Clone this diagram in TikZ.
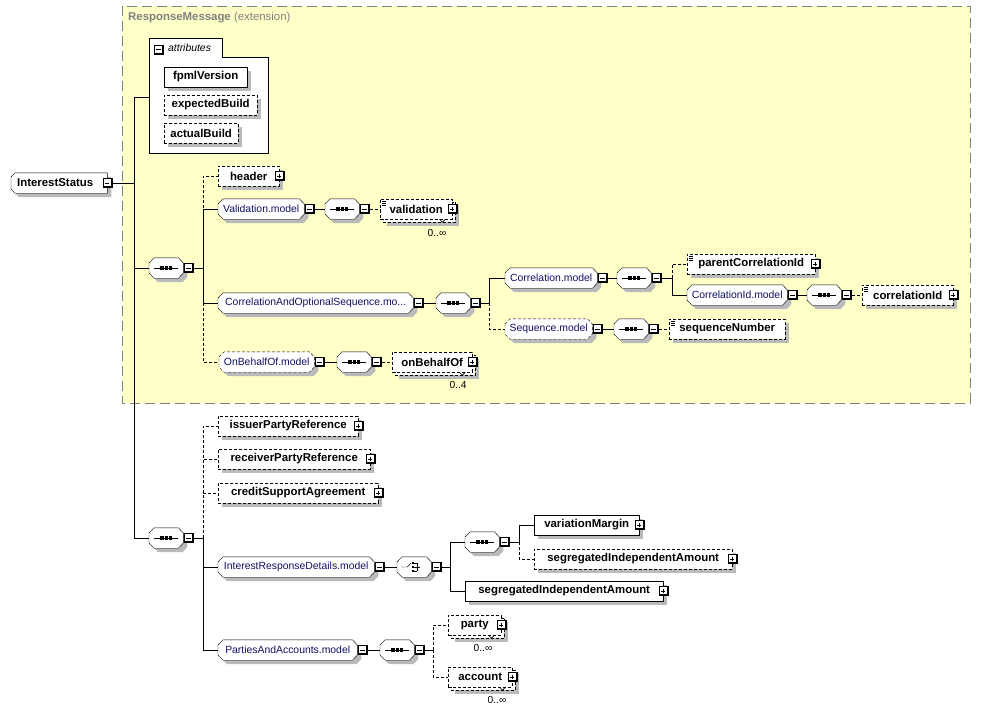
\documentclass[tikz,border=0pt]{standalone}
\usepackage{fontspec}
\setmainfont{Liberation Sans}
\usetikzlibrary{calc}

\definecolor{extfill}{RGB}{255,255,200}
\definecolor{extline}{RGB}{128,128,128}
\definecolor{grptext}{RGB}{16,16,100}
\definecolor{dropgray}{RGB}{186,186,186}

\newcommand\elemfont{\fontsize{11.4}{13}\selectfont\bfseries}
\newcommand\grpfont{\fontsize{10.4}{12}\selectfont}
\newcommand\cardfont{\fontsize{10.2}{12}\selectfont}

% octagon round a group node, #2 = offset
\newcommand\grpshape[2]{($(#1.west)+(0pt,5pt)+#2$) -- ($(#1.north west)+(5pt,0pt)+#2$)
  -- ($(#1.north east)+(-5pt,0pt)+#2$) -- ($(#1.east)+(0pt,5pt)+#2$)
  -- ($(#1.east)+(0pt,-5pt)+#2$) -- ($(#1.south east)+(-5pt,0pt)+#2$)
  -- ($(#1.south west)+(5pt,0pt)+#2$) -- ($(#1.west)+(0pt,-5pt)+#2$) -- cycle}

\pgfdeclarelayer{extlayer}
\pgfdeclarelayer{outlinelayer}
\pgfsetlayers{extlayer,outlinelayer,main}

\tikzset{
  opt/.style={dash pattern=on 3pt off 2pt},
  elem/.style={draw, fill=white, font=\elemfont, minimum height=20pt, inner sep=0pt, anchor=west},
  grp/.style={font=\grpfont, text=grptext, minimum height=20pt, inner sep=0pt, anchor=west},
  seq/.style={grp, minimum width=34pt},
  card/.style={font=\cardfont, inner sep=0pt},
  pmbox/.style={draw, fill=white, minimum size=9pt, inner sep=0pt, line width=0.8pt},
  minus/.style={pmbox, path picture={
    \draw[line width=2.2pt] (path picture bounding box.north east) -- (path picture bounding box.south east)
      -- (path picture bounding box.south west);
    \draw ([xshift=2pt]path picture bounding box.west) -- ([xshift=-2.5pt]path picture bounding box.east);}},
  plus/.style={pmbox, path picture={
    \draw[line width=2.2pt] (path picture bounding box.north east) -- (path picture bounding box.south east)
      -- (path picture bounding box.south west);
    \draw ([xshift=2pt]path picture bounding box.west) -- ([xshift=-2.5pt]path picture bounding box.east);
    \draw ([shift={(-0.3pt,-2pt)}]path picture bounding box.north) -- ([shift={(-0.3pt,2.5pt)}]path picture bounding box.south);}},
}

\begin{document}
\begin{tikzpicture}[x=1pt, y=-1pt, line width=0.9pt]
  \useasboundingbox (0,0) rectangle (981,713);

  % extension of ResponseMessage, with its attributes
  \begin{pgfonlayer}{extlayer}
    \fill[extfill] (122,6) rectangle (970,403);
    \draw[extline, dash pattern=on 10pt off 5pt] (122,6) rectangle (970,403);
    \draw[fill=white] (149,153) -- (149,38) -- (222,38) -- (222,57) -- (268,57) -- (268,153) -- cycle;
  \end{pgfonlayer}
  \node[anchor=west, inner sep=0pt, text=extline, font=\elemfont] (ext) at (128,18) {ResponseMessage \mdseries(extension)};

  % root element
  \node[grp, font=\elemfont, text=black, minimum width=96pt, text width=84pt, align=left] (st) at (11,183) {InterestStatus};
  \node[minus] (st-b) at (st.east) {};

  % attributes
  \node[minus] (attr-b) at (158.5,49.5) {};
  \node[anchor=west, inner sep=0pt, font=\grpfont\itshape] (attr) at (168,48) {attributes};
  \coordinate (attr-in) at (149,97);
  \node[elem, minimum width=83pt] (fv) at (164,77) {fpmlVersion};
  \node[elem, opt, minimum width=93pt] (eb) at (164,105) {expectedBuild};
  \node[elem, opt, minimum width=74pt] (ab) at (164,133) {actualBuild};

  % inherited sequence
  \coordinate (t0) at (134,183);
  \node[seq] (s1) at (149,268) {};
  \node[minus] (s1-b) at ([xshift=5.5pt]s1.east) {};
  \coordinate (j1) at (203,268);

  \node[elem, opt, minimum width=61pt] (hdr) at (218,176) {header};
  \node[plus] (hdr-b) at (hdr.east) {};

  \node[grp, minimum width=86pt] (valm) at (218,209) {Validation.model};
  \node[minus] (valm-b) at ([xshift=5.5pt]valm.east) {};
  \node[seq] (s2) at (325,209) {};
  \node[minus] (s2-b) at ([xshift=5.5pt]s2.east) {};
  \node[elem, opt, minimum width=72pt] (val) at (380,209) {validation};
  \node[plus] (val-b) at (val.east) {};
  \node[card] (val-n) at (437,233) {0..∞};

  \node[grp, minimum width=195pt] (coas) at (218,303) {CorrelationAndOptionalSequence.mo...};
  \node[minus] (coas-b) at ([xshift=5.5pt]coas.east) {};
  \node[seq] (s3) at (436,303) {};
  \node[minus] (s3-b) at ([xshift=5.5pt]s3.east) {};
  \coordinate (j3) at (489,303);

  \node[grp, minimum width=92pt] (corm) at (505,278) {Correlation.model};
  \node[minus] (corm-b) at ([xshift=5.5pt]corm.east) {};
  \node[seq] (s4) at (617,278) {};
  \node[minus] (s4-b) at ([xshift=5.5pt]s4.east) {};
  \coordinate (j4) at (672,278);
  \node[elem, opt, minimum width=128pt] (pci) at (687,264) {parentCorrelationId};
  \node[plus] (pci-b) at (pci.east) {};
  \node[grp, minimum width=100pt] (cidm) at (687,295) {CorrelationId.model};
  \node[minus] (cidm-b) at ([xshift=5.5pt]cidm.east) {};
  \node[seq] (s5) at (807,295) {};
  \node[minus] (s5-b) at ([xshift=5.5pt]s5.east) {};
  \node[elem, opt, minimum width=91pt] (cid) at (862,295) {correlationId};
  \node[plus] (cid-b) at (cid.east) {};

  \node[grp, minimum width=87pt] (seqm) at (505,329) {Sequence.model};
  \node[minus] (seqm-b) at ([xshift=5.5pt]seqm.east) {};
  \node[seq] (s6) at (614,329) {};
  \node[minus] (s6-b) at ([xshift=5.5pt]s6.east) {};
  \node[elem, opt, minimum width=116pt] (sn) at (669,329) {sequenceNumber};

  \node[grp, minimum width=95pt] (obm) at (219,362) {OnBehalfOf.model};
  \node[minus] (obm-b) at ([xshift=5.5pt]obm.east) {};
  \node[seq] (s7) at (337,362) {};
  \node[minus] (s7-b) at ([xshift=5.5pt]s7.east) {};
  \node[elem, opt, minimum width=80pt] (obo) at (392,362) {onBehalfOf};
  \node[plus] (obo-b) at (obo.east) {};
  \node[card] (obo-n) at (458,385) {0..4};

  % own sequence
  \node[seq] (sB) at (149,538) {};
  \node[minus] (sB-b) at ([xshift=5.5pt]sB.east) {};
  \coordinate (jB) at (203,538);

  \node[elem, opt, minimum width=140pt] (ipr) at (218,426) {issuerPartyReference};
  \node[plus] (ipr-b) at (ipr.east) {};
  \node[elem, opt, minimum width=152pt] (rpr) at (218,459) {receiverPartyReference};
  \node[plus] (rpr-b) at (rpr.east) {};
  \node[elem, opt, minimum width=160pt] (csa) at (218,493) {creditSupportAgreement};
  \node[plus] (csa-b) at (csa.east) {};

  \node[grp, minimum width=156pt] (irdm) at (218,567) {InterestResponseDetails.model};
  \node[minus] (irdm-b) at ([xshift=5.5pt]irdm.east) {};
  \node[seq] (ch) at (397,567) {};
  \node[minus] (ch-b) at ([xshift=5.5pt]ch.east) {};
  \coordinate (jc) at (450,567);
  \node[seq] (s8) at (465,542) {};
  \node[minus] (s8-b) at ([xshift=5.5pt]s8.east) {};
  \coordinate (j8) at (519,542);
  \node[elem, minimum width=105pt] (vm) at (534,525) {variationMargin};
  \node[plus] (vm-b) at (vm.east) {};
  \node[elem, opt, minimum width=198pt] (sia1) at (534,559) {segregatedIndependentAmount};
  \node[plus] (sia1-b) at (sia1.east) {};
  \node[elem, minimum width=198pt] (sia2) at (465,591) {segregatedIndependentAmount};
  \node[plus] (sia2-b) at (sia2.east) {};

  \node[grp, minimum width=139pt] (paam) at (218,650) {PartiesAndAccounts.model};
  \node[minus] (paam-b) at ([xshift=5.5pt]paam.east) {};
  \node[seq] (s9) at (380,650) {};
  \node[minus] (s9-b) at ([xshift=5.5pt]s9.east) {};
  \coordinate (j9) at (433,650);
  \node[elem, opt, minimum width=53pt] (pty) at (448,625) {party};
  \node[plus] (pty-b) at (pty.east) {};
  \node[card] (pty-n) at (483,648) {0..∞};
  \node[elem, opt, minimum width=64pt] (acc) at (448,677) {account};
  \node[plus] (acc-b) at (acc.east) {};
  \node[card] (acc-n) at (497,700) {0..∞};

  % shadows first, then outlines of groups, compositors and repeated elements
  \begin{pgfonlayer}{outlinelayer}
    \foreach \n in {fv,eb,ab,hdr,pci,cid,sn,ipr,rpr,csa,vm,sia1,sia2}
      \fill[dropgray] ($(\n.north west)+(4pt,-4pt)$) rectangle ($(\n.south east)+(4pt,-4pt)$);
    \foreach \n in {val,obo,pty,acc}
      \fill[dropgray] ($(\n.north west)+(7pt,-7pt)$) rectangle ($(\n.south east)+(7pt,-7pt)$);
    \foreach \n in {valm,coas,corm,cidm,seqm,obm,irdm,paam,s1,s2,s3,s4,s5,s6,s7,s8,s9,sB,ch}
      \fill[dropgray] \grpshape{\n}{(4pt,-4pt)};
    \fill[dropgray] ($(st.west)+(4pt,2pt)$) -- ($(st.north west)+(8pt,-4pt)$) -- ($(st.north east)+(4pt,-4pt)$)
      -- ($(st.south east)+(4pt,-4pt)$) -- ($(st.south west)+(8pt,-4pt)$) -- ($(st.west)+(4pt,-10pt)$) -- cycle;

    \foreach \n in {valm,coas,corm,cidm,irdm,paam,s1,s2,s3,s4,s5,s6,s7,s8,s9,sB,ch}
      \draw[fill=white] \grpshape{\n}{(0pt,0pt)};
    \foreach \n in {seqm,obm}
      \draw[opt, fill=white] \grpshape{\n}{(0pt,0pt)};
    \foreach \n in {val,obo,pty,acc}
      \draw[opt, fill=white] ($(\n.north west)+(3pt,-3pt)$) rectangle ($(\n.south east)+(3pt,-3pt)$);
    \draw[fill=white] ($(st.west)+(0pt,6pt)$) -- ($(st.north west)+(4pt,0pt)$) -- (st.north east) -- (st.south east)
      -- ($(st.south west)+(4pt,0pt)$) -- ($(st.west)+(0pt,-6pt)$) -- cycle;
  \end{pgfonlayer}

  % compositor icons
  \foreach \n in {s1,s2,s3,s4,s5,s6,s7,s8,s9,sB} {
    \draw ([xshift=-12pt]\n.center) -- ([xshift=12pt]\n.center);
    \foreach \k in {-4.2,0,4.2}
      \fill ([xshift=\k pt]\n.center) +(-1.6pt,-1.6pt) rectangle +(1.6pt,1.6pt);
  }
  \draw ([xshift=-13pt]ch.center) -- ([xshift=-7pt]ch.center) -- ([shift={(-3pt,4pt)}]ch.center);
  \foreach \k in {-4,0,4} {
    \fill ([shift={(-2.6pt,\k pt)}]ch.center) +(0pt,-1.4pt) rectangle +(2.8pt,1.4pt);
    \draw ([shift={(0pt,\k pt)}]ch.center) -- ([shift={(3pt,\k pt)}]ch.center);
  }
  \draw ([shift={(3pt,-4pt)}]ch.center) -- ([shift={(3pt,4pt)}]ch.center);
  \draw ([xshift=3pt]ch.center) -- ([xshift=6pt]ch.center);

  % simple content marks
  \foreach \n in {val,pci,cid,sn}
    \foreach \k in {2.5,4.5,6.5}
      \draw[line width=0.6pt] ([shift={(2pt,-\k pt)}]\n.north west) -- ++(4pt,0pt);

  % cardinality ticks
  \foreach \m in {val,obo,pty,acc}
    \draw[line width=0.6pt] (\m.south east) ++(-13,0) -- ++(3,3) -- ++(3,-3);

  % connectors
  \draw (st-b.east) -- (t0);
  \draw (t0) |- (attr-in);
  \draw (t0) |- (s1.west);
  \draw (t0) |- (sB.west);

  \draw (s1-b.east) -- (j1);
  \draw[opt] (j1) |- (hdr.west);
  \draw[opt] (j1) |- (obm.west);
  \draw (j1) |- (valm.west);
  \draw (j1) |- (coas.west);
  \draw (valm-b.east) -- (s2.west);
  \draw[opt] (s2-b.east) -- (val.west);
  \draw (coas-b.east) -- (s3.west);
  \draw (s3-b.east) -- (j3);
  \draw[opt] (j3) |- (seqm.west);
  \draw (j3) |- (corm.west);
  \draw (corm-b.east) -- (s4.west);
  \draw (s4-b.east) -- (j4);
  \draw[opt] (j4) |- (pci.west);
  \draw (j4) |- (cidm.west);
  \draw (cidm-b.east) -- (s5.west);
  \draw[opt] (s5-b.east) -- (cid.west);
  \draw (seqm-b.east) -- (s6.west);
  \draw[opt] (s6-b.east) -- (sn.west);
  \draw (obm-b.east) -- (s7.west);
  \draw[opt] (s7-b.east) -- (obo.west);

  \draw (sB-b.east) -- (jB);
  \draw[opt] (jB) |- (ipr.west);
  \draw[opt] (jB) |- (rpr.west);
  \draw[opt] (jB) |- (csa.west);
  \draw (jB) |- (irdm.west);
  \draw (jB) |- (paam.west);
  \draw (irdm-b.east) -- (ch.west);
  \draw (ch-b.east) -- (jc);
  \draw (jc) |- (s8.west);
  \draw (jc) |- (sia2.west);
  \draw (s8-b.east) -- (j8);
  \draw[opt] (j8) |- (sia1.west);
  \draw (j8) |- (vm.west);
  \draw (paam-b.east) -- (s9.west);
  \draw (s9-b.east) -- (j9);
  \draw[opt] (j9) |- (pty.west);
  \draw[opt] (j9) |- (acc.west);
\end{tikzpicture}
\end{document}
